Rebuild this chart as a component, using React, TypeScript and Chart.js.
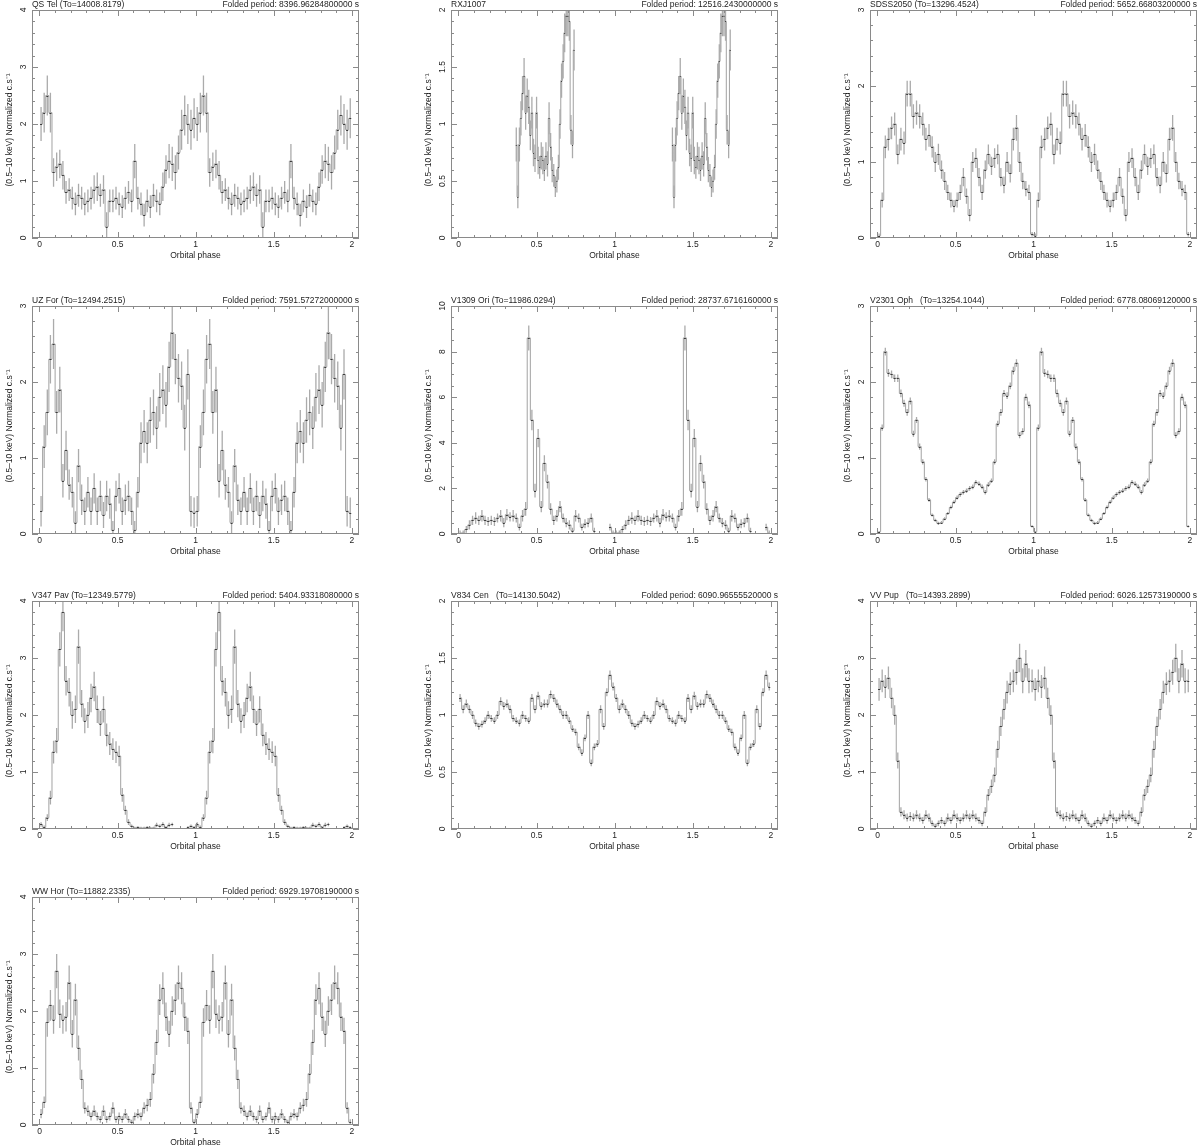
import React, { useEffect, useRef } from "react";
import { Chart, registerables } from "chart.js";

Chart.register(...registerables);

const FONT = '"Liberation Sans", Arial, Helvetica, sans-serif';
Chart.defaults.font.family = FONT;

// ---------- axis tick labels ----------
const phaseTicks = [0, 0.5, 1, 1.5, 2];
const phaseMinorStep = 0.1;
const yTicks4 = [0, 1, 2, 3, 4];
const yTicks3 = [0, 1, 2, 3];
const yTicks2 = [0, 0.5, 1, 1.5, 2];
const yTicks10 = [0, 2, 4, 6, 8, 10];
const xTitle = "Orbital phase";
const yTitle = "(0.5\u201310 keV) Normalized c.s\u207B\u00B9";

// ---------- folded light curves (one cycle each, repeated over phase 0-2) ----------
// QS Tel : 50 bins
const qsTelValues = [
  2.0, 2.2, 2.5, 2.2, 1.15, 1.25, 1.3, 1.1, 0.8, 0.85,
  0.7, 0.6, 0.75, 0.7, 0.6, 0.65, 0.7, 0.85, 0.9, 0.75,
  0.85, 0.2, 0.65, 0.65, 0.7, 0.6, 0.55, 0.7, 0.8, 0.65,
  1.35, 0.7, 0.6, 0.4, 0.65, 0.55, 0.75, 0.65, 0.6, 0.9,
  1.2, 1.35, 1.3, 1.15, 1.5, 1.9, 2.15, 2.0, 1.9, 2.1,
];
const qsTelErrors = [
  0.3, 0.35, 0.35, 0.35, 0.25, 0.25, 0.25, 0.25, 0.2, 0.2,
  0.2, 0.2, 0.2, 0.2, 0.2, 0.2, 0.2, 0.25, 0.25, 0.2,
  0.25, 0.25, 0.2, 0.2, 0.2, 0.2, 0.2, 0.2, 0.2, 0.2,
  0.3, 0.2, 0.2, 0.2, 0.2, 0.2, 0.2, 0.2, 0.2, 0.25,
  0.25, 0.3, 0.3, 0.3, 0.3, 0.35, 0.35, 0.35, 0.35, 0.35,
];

// RXJ1007 : 0.01 bins from phase 0.365 to 0.745
const rxjValues = [
  0.82, 0.36, 0.82, 1.05, 1.27, 1.42, 1.1, 1.25, 1.15, 0.9,
  1.1, 0.75, 0.7, 1.1, 0.68, 0.62, 0.72, 0.68, 0.6, 0.72,
  0.65, 1.05, 0.8, 0.6, 0.55, 0.45, 0.5, 0.62, 1.0, 1.38,
  1.55, 1.8, 1.95, 1.95, 1.9, 0.95, 0.82, 1.65,
];
const rxjErrors = [
  0.15, 0.1, 0.15, 0.15, 0.15, 0.16, 0.15, 0.15, 0.15, 0.13,
  0.14, 0.12, 0.12, 0.14, 0.12, 0.1, 0.12, 0.12, 0.1, 0.12,
  0.11, 0.14, 0.12, 0.11, 0.1, 0.09, 0.1, 0.11, 0.13, 0.15,
  0.15, 0.17, 0.18, 0.18, 0.17, 0.13, 0.12, 0.18,
];

// SDSS2050 : 50 bins
const sdssValues = [
  0.03, 0.5, 1.2, 1.3, 1.45, 1.5, 1.1, 1.3, 1.25, 1.9,
  1.9, 1.6, 1.65, 1.6, 1.5, 1.3, 1.35, 1.2, 1.0, 1.1,
  0.9, 0.75, 0.6, 0.5, 0.42, 0.5, 0.6, 0.8, 0.55, 0.3,
  1.0, 1.05, 0.8, 0.6, 0.9, 1.1, 0.95, 1.05, 1.1, 0.8,
  0.7, 1.0, 0.85, 1.3, 1.45, 1.0, 0.75, 0.65, 0.6, 0.05,
];
const sdssErrors = [
  0.03, 0.1, 0.15, 0.15, 0.15, 0.15, 0.13, 0.15, 0.15, 0.17,
  0.17, 0.16, 0.16, 0.16, 0.15, 0.15, 0.15, 0.14, 0.13, 0.14,
  0.12, 0.12, 0.1, 0.1, 0.08, 0.1, 0.1, 0.12, 0.1, 0.08,
  0.13, 0.13, 0.12, 0.1, 0.12, 0.13, 0.12, 0.13, 0.13, 0.12,
  0.11, 0.13, 0.12, 0.15, 0.17, 0.13, 0.11, 0.1, 0.1, 0.03,
];

// UZ For : 50 bins
const uzForValues = [
  0.3, 1.15, 1.6, 2.3, 2.5, 1.6, 1.9, 0.7, 1.1, 0.65,
  0.55, 0.15, 0.9, 0.45, 0.3, 0.55, 0.3, 0.6, 0.3, 0.5,
  0.25, 0.5, 0.4, 0.05, 0.5, 0.6, 0.3, 0.45, 0.5, 0.3,
  0.05, 0.55, 1.2, 1.35, 1.2, 1.5, 1.6, 1.4, 1.8, 1.9,
  1.7, 2.2, 2.65, 2.3, 2.05, 1.95, 1.4, 2.1, 0.3, 0.28,
];
const uzForErrors = [
  0.2, 0.28, 0.3, 0.32, 0.33, 0.28, 0.3, 0.22, 0.26, 0.2,
  0.2, 0.15, 0.22, 0.2, 0.18, 0.2, 0.18, 0.2, 0.18, 0.2,
  0.17, 0.2, 0.2, 0.12, 0.2, 0.2, 0.18, 0.2, 0.2, 0.18,
  0.12, 0.2, 0.27, 0.28, 0.27, 0.3, 0.3, 0.28, 0.32, 0.32,
  0.3, 0.33, 0.35, 0.33, 0.32, 0.32, 0.3, 0.33, 0.2, 0.2,
];

// V1309 Ori : 50 bins
const v1309Values = [
  0.05, 0.05, 0.2, 0.4, 0.6, 0.7, 0.6, 0.8, 0.6, 0.55,
  0.6, 0.55, 0.7, 0.8, 0.5, 0.85, 0.75, 0.8, 0.7, 0.3,
  0.8, 1.1, 8.6, 5.0, 1.9, 4.2, 1.2, 3.1, 2.3, 1.1,
  0.6, 0.8, 1.2, 0.7, 0.5, 0.4, 0.15, 0.8, 0.7, 0.3,
  0.45, 0.5, 0.7, 0.15, null, null, null, null, 0.3, 0.05,
];
const v1309Errors = [
  0.1, 0.1, 0.15, 0.2, 0.2, 0.25, 0.2, 0.25, 0.2, 0.2,
  0.2, 0.2, 0.2, 0.25, 0.2, 0.25, 0.2, 0.25, 0.2, 0.15,
  0.25, 0.3, 0.55, 0.45, 0.3, 0.4, 0.25, 0.35, 0.3, 0.25,
  0.2, 0.25, 0.25, 0.2, 0.2, 0.2, 0.12, 0.25, 0.2, 0.15,
  0.2, 0.2, 0.2, 0.12, null, null, null, null, 0.15, 0.1,
];

// V2301 Oph : 50 bins
const v2301Values = [
  0.03, 1.4, 2.4, 2.12, 2.1, 2.05, 2.05, 1.85, 1.72, 1.6,
  1.75, 1.32, 1.5, 1.15, 0.95, 0.72, 0.45, 0.25, 0.18, 0.14,
  0.15, 0.2, 0.27, 0.35, 0.42, 0.48, 0.52, 0.55, 0.57, 0.6,
  0.62, 0.68, 0.66, 0.62, 0.55, 0.65, 0.7, 0.95, 1.45, 1.6,
  1.85, 1.82, 1.95, 2.15, 2.25, 1.3, 1.35, 1.8, 1.7, 0.1,
];
const v2301Errors = [
  0.01, 0.04, 0.05, 0.05, 0.05, 0.05, 0.05, 0.05, 0.045, 0.045,
  0.045, 0.04, 0.04, 0.04, 0.035, 0.03, 0.025, 0.02, 0.02, 0.02,
  0.02, 0.02, 0.02, 0.025, 0.025, 0.025, 0.03, 0.03, 0.03, 0.03,
  0.03, 0.03, 0.03, 0.03, 0.03, 0.03, 0.03, 0.035, 0.04, 0.045,
  0.045, 0.045, 0.045, 0.05, 0.05, 0.04, 0.04, 0.045, 0.045, 0.015,
];

// V347 Pav : 50 bins
const v347Values = [
  0.08, 0.03, 0.2, 0.55, 1.35, 1.55, 3.15, 3.8, 2.6, 2.4,
  2.0, 2.1, 3.2, 2.2, 1.9, 2.0, 2.3, 2.5, 2.1, 1.85,
  2.1, 1.65, 1.5, 1.4, 1.35, 1.28, 0.6, 0.33, 0.12, 0.05,
  0.02, 0.03, 0.02, 0.02, 0.03, 0.02, 0.02, 0.07, 0.05, 0.08,
  0.03, 0.07, 0.08, null, null, null, null, 0.03, 0.05, 0.03,
];
const v347Errors = [
  0.04, 0.03, 0.06, 0.12, 0.2, 0.22, 0.3, 0.33, 0.26, 0.25,
  0.24, 0.24, 0.3, 0.24, 0.22, 0.23, 0.25, 0.26, 0.24, 0.22,
  0.23, 0.2, 0.2, 0.19, 0.19, 0.18, 0.12, 0.08, 0.05, 0.03,
  0.02, 0.02, 0.02, 0.02, 0.02, 0.02, 0.02, 0.04, 0.03, 0.04,
  0.02, 0.04, 0.03, null, null, null, null, 0.02, 0.03, 0.02,
];

// V834 Cen : 50 bins
const v834Values = [
  1.15, 1.05, 1.1, 1.05, 1.0, 0.93, 0.9, 0.92, 0.95, 1.0,
  0.97, 0.95, 1.0, 1.12, 1.08, 1.1, 1.05, 0.97, 0.95, 0.93,
  1.0, 0.97, 0.95, 1.15, 1.05, 1.17, 1.08, 1.1, 1.1, 1.18,
  1.15, 1.1, 1.05, 1.0, 1.0, 0.95, 0.88, 0.85, 0.72, 0.67,
  0.8, 1.0, 0.58, 0.72, 0.75, 1.05, 0.9, 1.2, 1.35, 1.25,
];
const v834Errors = [
  0.035, 0.035, 0.035, 0.035, 0.035, 0.03, 0.03, 0.03, 0.03, 0.035,
  0.03, 0.03, 0.035, 0.035, 0.035, 0.035, 0.035, 0.03, 0.03, 0.03,
  0.035, 0.03, 0.03, 0.035, 0.035, 0.035, 0.035, 0.035, 0.035, 0.035,
  0.035, 0.035, 0.035, 0.035, 0.035, 0.03, 0.03, 0.03, 0.03, 0.03,
  0.03, 0.035, 0.03, 0.03, 0.03, 0.035, 0.03, 0.035, 0.04, 0.035,
];

// VV Pup : 50 bins
const vvPupValues = [
  2.45, 2.6, 2.5, 2.65, 2.3, 2.0, 1.2, 0.3, 0.25, 0.2,
  0.22, 0.2, 0.25, 0.2, 0.15, 0.25, 0.2, 0.1, 0.05, 0.1,
  0.15, 0.1, 0.2, 0.15, 0.25, 0.2, 0.15, 0.2, 0.25, 0.2,
  0.25, 0.2, 0.15, 0.1, 0.3, 0.6, 0.75, 0.95, 1.4, 1.8,
  2.1, 2.4, 2.55, 2.6, 2.75, 3.0, 2.6, 2.9, 2.6, 2.6,
];
const vvPupErrors = [
  0.2, 0.2, 0.2, 0.2, 0.18, 0.17, 0.14, 0.08, 0.08, 0.07,
  0.08, 0.07, 0.08, 0.07, 0.06, 0.08, 0.07, 0.05, 0.04, 0.05,
  0.06, 0.05, 0.07, 0.06, 0.08, 0.07, 0.06, 0.07, 0.08, 0.07,
  0.08, 0.07, 0.06, 0.05, 0.08, 0.1, 0.12, 0.13, 0.15, 0.17,
  0.18, 0.2, 0.2, 0.2, 0.22, 0.25, 0.22, 0.24, 0.22, 0.2,
];

// WW Hor : 50 bins
const wwHorValues = [
  0.2, 0.4, 1.8, 2.1, 1.85, 2.7, 1.95, 1.85, 1.9, 2.5,
  1.6, 2.2, 1.35, 0.8, 0.3, 0.25, 0.15, 0.25, 0.15, 0.1,
  0.25, 0.1, 0.15, 0.3, 0.1, 0.15, 0.1, 0.2, 0.1, 0.05,
  0.15, 0.2, 0.15, 0.3, 0.35, 0.45, 0.9, 1.45, 2.2, 2.4,
  1.9, 1.6, 2.0, 2.2, 2.5, 2.4, 1.9, 1.65, 0.3, 0.05,
];
const wwHorErrors = [
  0.08, 0.1, 0.25, 0.27, 0.25, 0.3, 0.25, 0.25, 0.26, 0.3,
  0.24, 0.28, 0.22, 0.17, 0.1, 0.09, 0.07, 0.09, 0.07, 0.06,
  0.09, 0.06, 0.07, 0.1, 0.06, 0.07, 0.06, 0.08, 0.06, 0.04,
  0.07, 0.08, 0.07, 0.1, 0.11, 0.13, 0.17, 0.22, 0.27, 0.28,
  0.25, 0.23, 0.26, 0.27, 0.3, 0.28, 0.25, 0.23, 0.1, 0.05,
];

// ---------- panel descriptions ----------
type Val = number | null;
interface PanelSpec {
  leftTitle: string;
  rightTitle: string;
  values: Val[];
  errors: Val[];
  start: number;
  bin: number;
  wraps: boolean;
  yTicks: number[];
  yMinor: number;
}

const panels: PanelSpec[] = [
  { leftTitle: "QS Tel (To=14008.8179)", rightTitle: "Folded period: 8396.96284800000 s", values: qsTelValues, errors: qsTelErrors, start: 0, bin: 0.02, wraps: true, yTicks: yTicks4, yMinor: 0.2 },
  { leftTitle: "RXJ1007", rightTitle: "Folded period: 12516.2430000000 s", values: rxjValues, errors: rxjErrors, start: 0.365, bin: 0.01, wraps: false, yTicks: yTicks2, yMinor: 0.1 },
  { leftTitle: "SDSS2050 (To=13296.4524)", rightTitle: "Folded period: 5652.66803200000 s", values: sdssValues, errors: sdssErrors, start: 0, bin: 0.02, wraps: true, yTicks: yTicks3, yMinor: 0.2 },
  { leftTitle: "UZ For (To=12494.2515)", rightTitle: "Folded period: 7591.57272000000 s", values: uzForValues, errors: uzForErrors, start: 0, bin: 0.02, wraps: true, yTicks: yTicks3, yMinor: 0.2 },
  { leftTitle: "V1309 Ori (To=11986.0294)", rightTitle: "Folded period: 28737.6716160000 s", values: v1309Values, errors: v1309Errors, start: 0, bin: 0.02, wraps: true, yTicks: yTicks10, yMinor: 0.5 },
  { leftTitle: "V2301 Oph   (To=13254.1044)", rightTitle: "Folded period: 6778.08069120000 s", values: v2301Values, errors: v2301Errors, start: 0, bin: 0.02, wraps: true, yTicks: yTicks3, yMinor: 0.2 },
  { leftTitle: "V347 Pav (To=12349.5779)", rightTitle: "Folded period: 5404.93318080000 s", values: v347Values, errors: v347Errors, start: 0, bin: 0.02, wraps: true, yTicks: yTicks4, yMinor: 0.2 },
  { leftTitle: "V834 Cen   (To=14130.5042)", rightTitle: "Folded period: 6090.96555520000 s", values: v834Values, errors: v834Errors, start: 0, bin: 0.02, wraps: true, yTicks: yTicks2, yMinor: 0.1 },
  { leftTitle: "VV Pup   (To=14393.2899)", rightTitle: "Folded period: 6026.12573190000 s", values: vvPupValues, errors: vvPupErrors, start: 0, bin: 0.02, wraps: true, yTicks: yTicks4, yMinor: 0.2 },
  { leftTitle: "WW Hor (To=11882.2335)", rightTitle: "Folded period: 6929.19708190000 s", values: wwHorValues, errors: wwHorErrors, start: 0, bin: 0.02, wraps: true, yTicks: yTicks4, yMinor: 0.2 },
];

// ---------- layout / style ----------
const COL_X = [0, 419, 838];
const ROW_Y = [0, 296, 591, 887];
const CANVAS_W = 362;
const CANVAS_H = 268;
const AXIS_W = 32;
const AXIS_H = 30;
const PAD_TOP = 10;
const PAD_RIGHT = 3;
const X_MIN = -0.048;
const X_MAX = 2.046;
const FRAME = "#8a8a8a";
const TEXT = "#1e1e1e";
const STEP = "#a2a2a2";
const ERR = "#ababab";
const MARK = "#3c3c3c";
const FONT_SIZE = 8.5;

interface Pt { x: number; y: number | null; e: number | null }

function buildPoints(spec: PanelSpec): Pt[] {
  const pts: Pt[] = [];
  for (const c of [0, 1]) {
    spec.values.forEach((v, i) => {
      pts.push({ x: c + spec.start + (i + 0.5) * spec.bin, y: v, e: spec.errors[i] });
    });
    if (!spec.wraps && c === 0) pts.push({ x: 1, y: null, e: null });
  }
  return pts;
}

function makePlugin(spec: PanelSpec, pts: Pt[]) {
  return {
    id: "foldedDecor",
    afterDatasetsDraw(chart: any) {
      const { ctx, chartArea: a, scales } = chart;
      const xs = scales.x;
      const ys = scales.y;
      ctx.save();
      ctx.beginPath();
      ctx.rect(a.left, a.top, a.right - a.left, a.bottom - a.top);
      ctx.clip();
      // error bars
      ctx.strokeStyle = ERR;
      ctx.lineWidth = 1.3;
      ctx.beginPath();
      for (const p of pts) {
        if (p.y == null || p.e == null) continue;
        const px = xs.getPixelForValue(p.x);
        ctx.moveTo(px, ys.getPixelForValue(p.y - p.e));
        ctx.lineTo(px, ys.getPixelForValue(p.y + p.e));
      }
      ctx.stroke();
      // dark bin marks
      ctx.strokeStyle = MARK;
      ctx.lineWidth = 1;
      ctx.beginPath();
      for (const p of pts) {
        if (p.y == null) continue;
        const x0 = xs.getPixelForValue(p.x - spec.bin * 0.32);
        const x1 = xs.getPixelForValue(p.x + spec.bin * 0.32);
        const py = Math.round(ys.getPixelForValue(p.y)) + 0.5;
        ctx.moveTo(x0, py);
        ctx.lineTo(x1, py);
      }
      ctx.stroke();
      ctx.restore();
    },
    afterDraw(chart: any) {
      const { ctx, chartArea: a, scales } = chart;
      const xs = scales.x;
      const ys = scales.y;
      ctx.save();
      // frame
      ctx.strokeStyle = FRAME;
      ctx.lineWidth = 1;
      ctx.strokeRect(a.left + 0.5, a.top + 0.5, a.right - a.left - 1, a.bottom - a.top - 1);
      // ticks
      ctx.beginPath();
      const nx = Math.round(2 / phaseMinorStep);
      for (let k = 0; k <= nx; k++) {
        const v = k * phaseMinorStep;
        const major = phaseTicks.some((t) => Math.abs(t - v) < 1e-9);
        const len = major ? 6 : 3;
        const px = Math.round(xs.getPixelForValue(v)) + 0.5;
        ctx.moveTo(px, a.bottom);
        ctx.lineTo(px, a.bottom - len);
        ctx.moveTo(px, a.top);
        ctx.lineTo(px, a.top + len);
      }
      const yMax = spec.yTicks[spec.yTicks.length - 1];
      const ny = Math.round(yMax / spec.yMinor);
      for (let k = 0; k <= ny; k++) {
        const v = k * spec.yMinor;
        const major = spec.yTicks.some((t) => Math.abs(t - v) < 1e-9);
        const len = major ? 6 : 3;
        const py = Math.round(ys.getPixelForValue(v)) + 0.5;
        ctx.moveTo(a.left, py);
        ctx.lineTo(a.left + len, py);
        ctx.moveTo(a.right, py);
        ctx.lineTo(a.right - len, py);
      }
      ctx.stroke();
      // rotated y tick labels
      ctx.fillStyle = TEXT;
      ctx.font = `${FONT_SIZE}px ${FONT}`;
      ctx.textAlign = "center";
      ctx.textBaseline = "middle";
      for (const t of spec.yTicks) {
        ctx.save();
        ctx.translate(a.left - 8, ys.getPixelForValue(t));
        ctx.rotate(-Math.PI / 2);
        ctx.fillText(String(t), 0, 0);
        ctx.restore();
      }
      // rotated y axis title
      ctx.save();
      ctx.translate(a.left - 22, (a.top + a.bottom) / 2 + 6);
      ctx.rotate(-Math.PI / 2);
      ctx.fillText(yTitle, 0, 0);
      ctx.restore();
      // panel titles
      ctx.textBaseline = "alphabetic";
      ctx.textAlign = "left";
      ctx.fillText(spec.leftTitle, a.left, a.top - 3);
      ctx.textAlign = "right";
      ctx.fillText(spec.rightTitle, a.right, a.top - 3);
      ctx.restore();
    },
  };
}

function Panel({ spec, index }: { spec: PanelSpec; index: number }) {
  const ref = useRef<HTMLCanvasElement | null>(null);
  const col = index % 3;
  const row = Math.floor(index / 3);
  useEffect(() => {
    if (!ref.current) return;
    const pts = buildPoints(spec);
    const yMax = spec.yTicks[spec.yTicks.length - 1];
    const chart = new Chart(ref.current, {
      type: "line",
      data: {
        datasets: [
          {
            data: pts.map((p) => ({ x: p.x, y: p.y })) as any,
            borderColor: STEP,
            borderWidth: 1,
            pointRadius: 0,
            stepped: "middle",
            spanGaps: false,
            fill: false,
          },
        ],
      },
      options: {
        animation: false,
        responsive: false,
        maintainAspectRatio: false,
        devicePixelRatio: 1,
        layout: { padding: { top: PAD_TOP, right: PAD_RIGHT, left: 0, bottom: 0 } },
        plugins: { legend: { display: false }, tooltip: { enabled: false }, title: { display: false } },
        scales: {
          x: {
            type: "linear",
            min: X_MIN,
            max: X_MAX,
            grid: { display: false, drawTicks: false },
            border: { display: false },
            afterBuildTicks: (s: any) => {
              s.ticks = phaseTicks.map((v) => ({ value: v }));
            },
            afterFit: (s: any) => {
              s.height = AXIS_H;
            },
            ticks: {
              autoSkip: false,
              maxRotation: 0,
              minRotation: 0,
              padding: 2,
              color: TEXT,
              font: { size: FONT_SIZE, family: FONT },
              callback: (v: any) => String(v),
            },
            title: {
              display: true,
              text: xTitle,
              color: TEXT,
              font: { size: FONT_SIZE, family: FONT },
              padding: { top: 0, bottom: 7 },
            },
          },
          y: {
            type: "linear",
            min: 0,
            max: yMax,
            grid: { display: false, drawTicks: false },
            border: { display: false },
            ticks: { display: false },
            afterFit: (s: any) => {
              s.width = AXIS_W;
            },
            title: { display: false },
          },
        },
      },
      plugins: [makePlugin(spec, pts)],
    });
    return () => chart.destroy();
  }, [spec]);
  return (
    <canvas
      ref={ref}
      width={CANVAS_W}
      height={CANVAS_H}
      style={{ position: "absolute", left: COL_X[col], top: ROW_Y[row], width: CANVAS_W, height: CANVAS_H }}
    />
  );
}

export default function App() {
  return (
    <div
      style={{
        position: "absolute",
        left: 0,
        top: 0,
        width: 1200,
        height: 1146,
        overflow: "hidden",
        background: "#ffffff",
      }}
    >
      {panels.map((p, i) => (
        <Panel key={i} spec={p} index={i} />
      ))}
    </div>
  );
}
